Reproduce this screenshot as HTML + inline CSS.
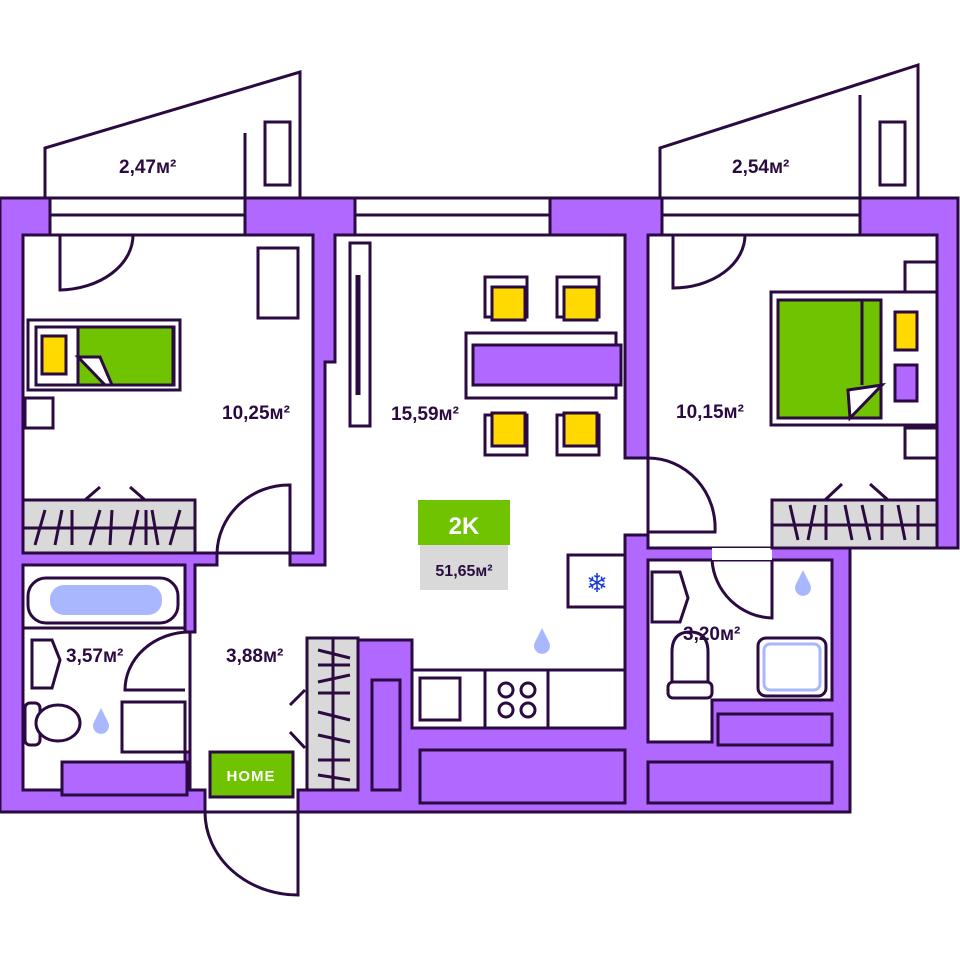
<!DOCTYPE html>
<html><head><meta charset="utf-8"><style>
html,body{margin:0;padding:0;background:#fff;}
svg{display:block;}
text{font-family:"Liberation Sans",sans-serif;}
</style></head><body>
<svg width="960" height="960" viewBox="0 0 960 960" xmlns="http://www.w3.org/2000/svg">
<g stroke="#2a0a40" stroke-width="3" fill="none">
<!-- balconies -->
<polygon points="45,198 45,148 300,72 300,198" fill="#fff"/>
<line x1="245" y1="133" x2="245" y2="198"/>
<rect x="265" y="122" width="25" height="63" fill="#fff"/>
<polygon points="660,198 660,148 918,65 918,198" fill="#fff"/>
<line x1="860" y1="95" x2="860" y2="198"/>
<rect x="880" y="122" width="25" height="63" fill="#fff"/>
<!-- outer purple -->
<polygon points="0,198 958,198 958,548 850,548 850,812 298,812 298,812 205,812 0,812" fill="#b068ff"/>
<!-- windows -->
<rect x="50" y="198" width="195" height="37" fill="#fff"/><line x1="50" y1="215" x2="245" y2="215"/>
<rect x="355" y="198" width="195" height="37" fill="#fff"/><line x1="355" y1="215" x2="550" y2="215"/>
<rect x="662" y="198" width="198" height="37" fill="#fff"/><line x1="662" y1="215" x2="860" y2="215"/>
<!-- left bedroom -->
<polygon points="23,235 313,235 313,553 290,553 290,553 217,553 23,553" fill="#fff"/>
<!-- living + hall -->
<polygon points="335,235 625,235 625,458 648,458 648,535 625,535 625,728 412,728 412,640 358,640 358,790 298,790 298,812 205,812 205,790 190,790 190,632 195,632 195,565 217,565 217,553 290,553 290,565 325,565 325,362 335,362" fill="#fff"/>
<!-- right bedroom -->
<polygon points="648,235 937,235 937,548 648,548" fill="#fff"/>
<!-- right bath -->
<polygon points="648,560 832,560 832,700 712,700 712,742 648,742" fill="#fff"/>
<rect x="712" y="548" width="60" height="12" fill="#fff" stroke="none"/>
<rect x="718" y="714" width="114" height="31" fill="#b068ff"/>
<rect x="648" y="762" width="184" height="41" fill="#b068ff"/>
<!-- left bath -->
<polygon points="23,565 185,565 185,632 190,632 190,752 185,752 185,790 23,790" fill="#fff"/>
<line x1="23" y1="628" x2="185" y2="628"/>
<rect x="62" y="762" width="125" height="33" fill="#b068ff"/>
<rect x="122" y="702" width="63" height="50" fill="#fff"/>
<!-- kitchen -->
<rect x="412" y="670" width="213" height="58" fill="#fff"/>
<line x1="485" y1="670" x2="485" y2="728"/><line x1="548" y1="670" x2="548" y2="728"/>
<rect x="420" y="678" width="40" height="42"/>
<circle cx="506" cy="690" r="7"/><circle cx="528" cy="690" r="7"/><circle cx="506" cy="710" r="7"/><circle cx="528" cy="710" r="7"/>
<rect x="568" y="555" width="57" height="52" fill="#fff"/>
<rect x="372" y="680" width="28" height="110" fill="#b068ff"/>
<rect x="420" y="750" width="205" height="53" fill="#b068ff"/>
<!-- wardrobes -->
<rect x="23" y="500" width="172" height="53" fill="#d9d9d9"/><line x1="23" y1="528" x2="195" y2="528"/>
<path d="M35,545 L45,510 M55,545 L62,510 M72,545 L72,510 M90,545 L100,510 M110,545 L112,510 M130,545 L138,510 M146,545 L146,510 M158,545 L152,510 M170,545 L180,510"/>
<path d="M85,500 L100,487 M130,487 L145,500"/>
<rect x="772" y="500" width="165" height="48" fill="#d9d9d9"/><line x1="772" y1="525" x2="937" y2="525"/>
<path d="M790,505 L798,540 M808,540 L815,505 M826,505 L826,540 M845,505 L852,540 M862,505 L870,540 M882,540 L882,505 M898,505 L905,540 M918,540 L918,505"/>
<path d="M825,500 L842,484 M870,484 L888,500"/>
<rect x="307" y="638" width="51" height="152" fill="#d9d9d9"/><line x1="333" y1="638" x2="333" y2="790"/>
<path d="M318,650 L350,658 M318,665 L350,665 M318,682 L350,675 M318,693 L350,693 M318,712 L350,720 M318,735 L350,742 M318,760 L350,760 M318,775 L350,780"/>
<path d="M290,705 L305,690 M290,732 L305,748"/>
<!-- doors -->
<path d="M60,235 L60,290 A75,55 0 0 0 133,235"/>
<path d="M673,235 L673,288 A72,53 0 0 0 745,235"/>
<path d="M290,553 L290,485 A72,70 0 0 0 217,553"/>
<path d="M648,458 A67,70 0 0 1 715,532 L648,532"/>
<path d="M772,560 L772,618 A62,62 0 0 1 712,560"/>
<path d="M190,632 A65,58 0 0 0 125,690 L185,690"/>
<path d="M298,812 L298,895 A93,83 0 0 1 205,812"/>
<!-- furniture left bedroom -->
<rect x="258" y="248" width="40" height="70" fill="#fff"/>
<rect x="28" y="320" width="152" height="70" fill="#fff"/>
<rect x="36" y="327" width="138" height="58"/>
<rect x="78" y="327" width="95" height="58" fill="#6fc300"/>
<polygon points="78,357 100,357 112,385 105,385" fill="#fff"/>
<rect x="42" y="336" width="24" height="38" fill="#ffd900"/>
<rect x="25" y="398" width="28" height="30" fill="#fff"/>
<!-- TV -->
<rect x="350" y="243" width="20" height="183" fill="#fff"/>
<line x1="358" y1="275" x2="358" y2="395" stroke-width="5"/>
<!-- dining -->
<rect x="466" y="333" width="150" height="65" fill="#fff"/>
<rect x="473" y="345" width="148" height="40" fill="#b068ff"/>
<rect x="485" y="277" width="42" height="40" fill="#fff"/><rect x="492" y="287" width="33" height="33" fill="#ffd900"/>
<rect x="557" y="277" width="42" height="40" fill="#fff"/><rect x="564" y="287" width="33" height="33" fill="#ffd900"/>
<rect x="485" y="415" width="42" height="40" fill="#fff"/><rect x="492" y="413" width="33" height="33" fill="#ffd900"/>
<rect x="557" y="415" width="42" height="40" fill="#fff"/><rect x="564" y="413" width="33" height="33" fill="#ffd900"/>
<!-- right bed -->
<rect x="905" y="262" width="32" height="30" fill="#fff"/>
<rect x="771" y="292" width="166" height="133" fill="#fff"/>
<rect x="778" y="300" width="103" height="118" fill="#6fc300"/>
<line x1="862" y1="300" x2="862" y2="385"/>
<polygon points="848,390 882,385 850,418" fill="#fff"/>
<rect x="895" y="312" width="22" height="38" fill="#ffd900"/>
<rect x="895" y="365" width="22" height="36" fill="#b068ff"/>
<rect x="905" y="428" width="32" height="30" fill="#fff"/>
<!-- bath fixtures -->
<rect x="28" y="578" width="150" height="45" rx="18" fill="#fff"/>
<rect x="50" y="585" width="112" height="30" rx="14" fill="#a9b7ff" stroke="none"/>
<path d="M32,640 L52,640 L60,660 L52,688 L32,688 Z" fill="#fff"/>
<rect x="25" y="703" width="15" height="42" rx="5" fill="#fff"/><ellipse cx="58" cy="723" rx="22" ry="18" fill="#fff"/>
<path d="M652,572 L680,572 L688,598 L680,622 L652,622 Z" fill="#fff"/>
<path d="M672,682 L672,652 Q672,632 690,632 Q708,632 708,652 L708,682" fill="#fff"/>
<rect x="668" y="682" width="44" height="16" rx="5" fill="#fff"/>
<rect x="758" y="638" width="68" height="58" rx="8" fill="#fff"/>
<rect x="764" y="644" width="56" height="46" rx="6" stroke="#a9b7ff"/>
</g>
<!-- icons -->
<text x="597" y="592" font-size="26" fill="#1a3ad8" text-anchor="middle">❄</text>
<path d="M542,628 L549,642 A8,8 0 1 1 535,642 Z" fill="#a9b7ff"/>
<path d="M803,570 L810,584 A8,8 0 1 1 796,584 Z" fill="#a9b7ff"/>
<path d="M101,708 L108,722 A8,8 0 1 1 94,722 Z" fill="#a9b7ff"/>
<!-- labels -->
<g fill="#2a0a40" font-size="19" font-weight="bold">
<text x="119" y="173">2,47м²</text>
<text x="732" y="173">2,54м²</text>
<text x="222" y="419">10,25м²</text>
<text x="391" y="420">15,59м²</text>
<text x="676" y="418">10,15м²</text>
<text x="66" y="662">3,57м²</text>
<text x="226" y="662">3,88м²</text>
<text x="683" y="640">3,20м²</text>
</g>
<rect x="418" y="500" width="92" height="45" fill="#6fc300"/>
<text x="464" y="534" font-size="24" font-weight="bold" fill="#fff" text-anchor="middle">2K</text>
<rect x="420" y="545" width="88" height="45" fill="#d9d9d9"/>
<text x="464" y="576" font-size="16" font-weight="bold" fill="#2a0a40" text-anchor="middle">51,65м²</text>
<rect x="210" y="752" width="83" height="45" fill="#6fc300" stroke="#2a0a40" stroke-width="3"/>
<text x="251" y="781" font-size="15" font-weight="bold" fill="#fff" text-anchor="middle" letter-spacing="1">HOME</text>
</svg>
</body></html>
